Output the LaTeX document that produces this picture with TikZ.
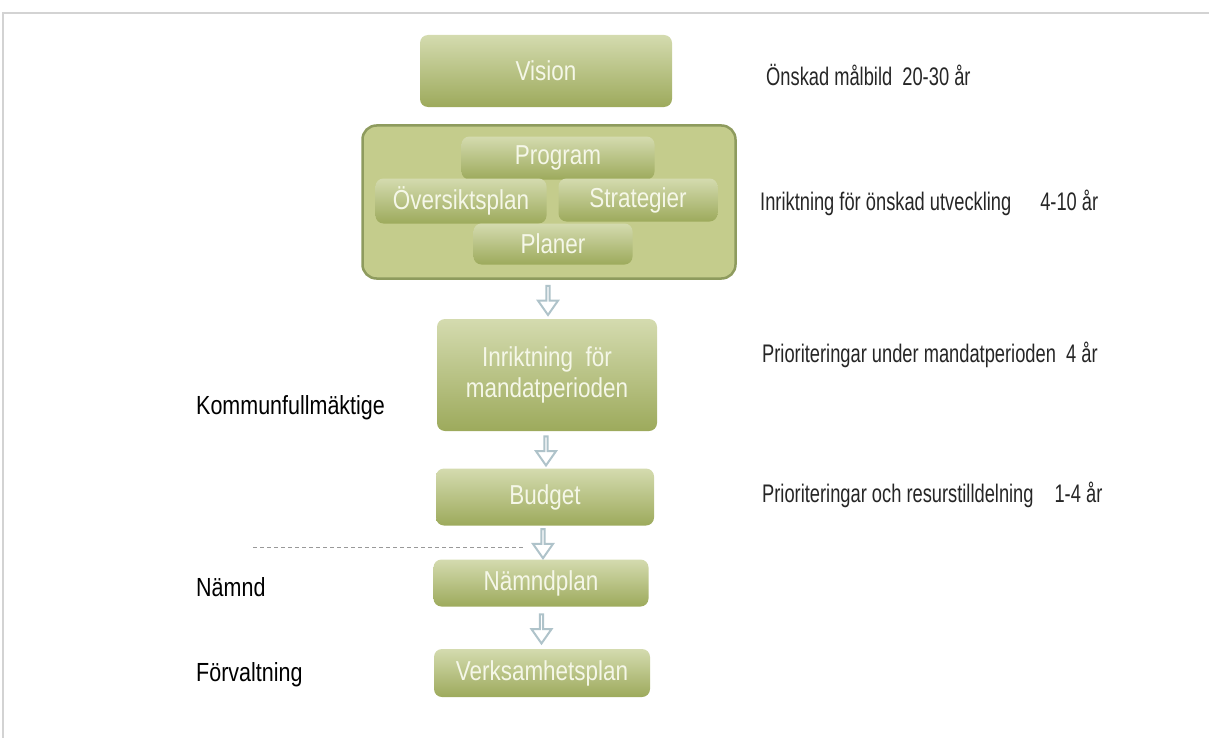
\documentclass[tikz,border=0pt]{standalone}
\usepackage{fontspec}
\setmainfont{Liberation Sans}[FakeStretch=0.82]
\newfontfamily\narrowfont{Liberation Sans}[FakeStretch=0.72]
\usetikzlibrary{shapes.arrows,calc}

\definecolor{boxtop}{HTML}{D4DBAF}
\definecolor{boxbot}{HTML}{9DAA5C}
\definecolor{grpfill}{HTML}{C4CC8C}
\definecolor{grpline}{HTML}{8E9B5E}
\definecolor{arrline}{HTML}{AFC3CA}
\definecolor{boxtext}{HTML}{F5F7E8}
\definecolor{frameline}{HTML}{D3D3D3}

\begin{document}
\begin{tikzpicture}[x=1bp,y=-1bp,
  box/.style={rounded corners=8bp,top color=boxtop,bottom color=boxbot,
    text=boxtext,font=\fontsize{27.5}{31}\selectfont,align=center,inner sep=0pt},
  group/.style={rounded corners=14bp,fill=grpfill,draw=grpline,line width=2.5bp},
  flow/.style={single arrow,draw=arrline,fill=white,line width=2bp,
    shape border rotate=270,minimum height=29bp,minimum width=20bp,
    single arrow head extend=5bp,single arrow tip angle=70,inner sep=0pt},
  note/.style={anchor=west,inner sep=0pt,font=\narrowfont\fontsize{25.5}{28}\selectfont,text=black!85},
  side/.style={anchor=west,inner sep=0pt,font=\fontsize{26.3}{28}\selectfont,text=black}]
\useasboundingbox (0,0) rectangle (1209,738);
\draw[frameline,line width=2bp] (3,738) -- (3,13) -- (1209,13);

% planning chain
\node[box,minimum width=252bp,minimum height=72bp] (vision) at (546,71) {Vision};
\node[group,minimum width=373bp,minimum height=153bp] (grp) at (549,202) {};
\node[box,minimum width=193bp,minimum height=43bp] (prog) at (558,158) {Program};
\node[box,minimum width=171bp,minimum height=45bp] (osp) at (461,201) {Översiktsplan};
\node[box,minimum width=159bp,minimum height=43bp] (strat) at (638,200) {Strategier};
\node[box,minimum width=159bp,minimum height=41bp] (plan) at (553,244) {Planer};
\node[box,minimum width=220bp,minimum height=112bp] (inr) at (547,375) {Inriktning~ för\\mandatperioden};
\node[box,minimum width=218bp,minimum height=57bp] (budget) at (545,497) {Budget};
\node[box,minimum width=215bp,minimum height=47bp] (nplan) at (541,583) {Nämndplan};
\node[box,minimum width=216bp,minimum height=48bp] (vplan) at (542,673) {Verksamhetsplan};

\node[flow] (a1) at ($(grp.south)!0.5!(inr.north)$) {};
\node[flow] (a2) at ($(inr.south)!0.5!(budget.north)$) {};
\node[flow] (a3) at ($(budget.south)!0.5!(nplan.north)$) {};
\node[flow] (a4) at ($(nplan.south)!0.5!(vplan.north)$) {};

% time spans
\node[note] (t1) at (766,75) {Önskad målbild \ 20-30 år};
\node[note] (t2) at (760,203) {Inriktning för önskad utveckling\hspace{29bp}4-10 år};
\node[note] (t3) at (762,355) {Prioriteringar under mandatperioden \ 4 år};
\node[note] (t4) at (762,495) {Prioriteringar och resurstilldelning\hspace{21bp}1-4 år};

% levels
\node[side] (kf) at (196,408) {Kommunfullmäktige};
\node[side] (nd) at (196,587) {Nämnd};
\node[side] (fv) at (196,675) {Förvaltning};

\coordinate (d1) at (253,547);
\coordinate (d2) at (523,547);
\draw[black!40,dashed,dash pattern=on 4bp off 3bp] (d1) -- (d2);
\end{tikzpicture}
\end{document}
